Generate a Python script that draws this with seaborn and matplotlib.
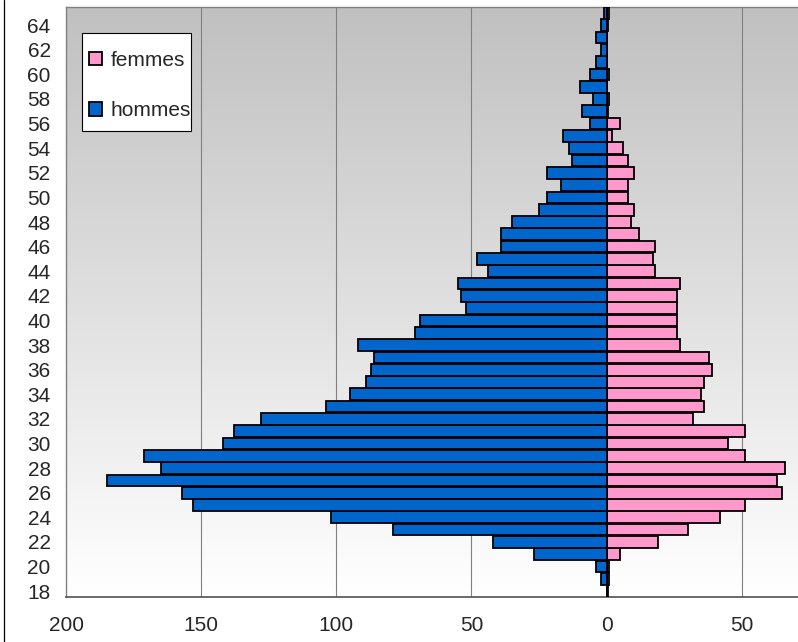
import numpy as np
import pandas as pd
import matplotlib
matplotlib.use("Agg")
import matplotlib.pyplot as plt
import matplotlib.colors as mcolors
from matplotlib.lines import Line2D
from matplotlib.patches import Rectangle
from matplotlib.ticker import FuncFormatter
import seaborn as sns

# Ages 18 a 65
ages = list(range(18, 66))
hommes = [0, 2, 4, 27, 42, 79, 102, 153, 157, 185,
          165, 171, 142, 138, 128, 104, 95, 89, 87, 86,
          92, 71, 69, 52, 54, 55, 44, 48, 39, 39,
          35, 25, 22, 17, 22, 13, 14, 16, 6, 9,
          5, 10, 6, 4, 2, 4, 2, 1]
femmes = [0.5, 1, 1, 5, 19, 30, 42, 51, 65, 63,
          66, 51, 45, 51, 32, 36, 35, 36, 39, 38,
          27, 26, 26, 26, 26, 27, 18, 17, 18, 12,
          9, 10, 8, 8, 10, 8, 6, 2, 5, 0.5,
          1, 0, 1, 0, 0, 0, 0.5, 1]
xticks = [-200, -150, -100, -50, 0, 50]
yticks = list(range(18, 65, 2))

couleurs = {"femmes": "#ff99cc", "hommes": "#0066cc"}

# Tableau long : les hommes a gauche (valeurs negatives)
df = pd.DataFrame({
    "age": ages + ages,
    "effectif": [-h for h in hommes] + femmes,
    "sexe": ["hommes"] * len(ages) + ["femmes"] * len(ages),
})

sns.set_style("white")
plt.rcParams["font.family"] = ["Liberation Sans", "DejaVu Sans"]

fig = plt.figure(figsize=(7.98, 6.42), dpi=100)
ax = fig.add_axes([66 / 798, 1 - 597.3 / 642, 731.5 / 798, 590.6 / 642])

# fond degrade gris -> blanc
cmap_fond = mcolors.LinearSegmentedColormap.from_list("fond", ["#c0c0c0", "#ffffff"])
ax.imshow(np.linspace(0, 1, 256).reshape(-1, 1), extent=[0, 1, 0, 1],
          transform=ax.transAxes, cmap=cmap_fond, aspect="auto", zorder=0)

sns.barplot(data=df, x="effectif", y="age", hue="sexe",
            hue_order=["femmes", "hommes"], palette=couleurs, saturation=1,
            orient="h", native_scale=True, dodge=False, width=0.95,
            edgecolor="black", linewidth=1.3, errorbar=None, ax=ax, zorder=3)

for xv in xticks[1:]:
    if xv != 0:
        ax.axvline(xv, color="#808080", lw=0.8, zorder=1)

ax.set_xlim(-200, 70.6)
ax.set_ylim(17.5, 65.5)
ax.set_xticks(xticks)
ax.xaxis.set_major_formatter(FuncFormatter(lambda v, p: f"{abs(int(v))}"))
ax.set_yticks(yticks)
ax.set_yticklabels([str(a) for a in yticks])
ax.tick_params(axis="y", length=0, pad=11, labelsize=15)
ax.tick_params(axis="x", length=4.3, width=0.8, color="#505050", pad=9, labelsize=15)
ax.set_xlabel("")
ax.set_ylabel("")

for s in ["top", "left"]:
    ax.spines[s].set_color("#808080")
    ax.spines[s].set_linewidth(1.0)
ax.spines["bottom"].set_color("#505050")
ax.spines["bottom"].set_linewidth(1.2)
ax.spines["right"].set_visible(False)

# cadre de la legende dessine a part (marges comme l'original)
ax.add_patch(Rectangle((16 / 731.5, (597.3 - 131) / 590.6), 109 / 731.5, 98 / 590.6,
                       transform=ax.transAxes, facecolor="white", edgecolor="black",
                       lw=0.8, zorder=4))
handles, labels = ax.get_legend_handles_labels()
leg = ax.legend(handles, labels, loc="upper left",
                bbox_to_anchor=((89 - 66) / 731.5, (597.3 - 51) / 590.6),
                borderaxespad=0, borderpad=0, fontsize=15, frameon=False,
                labelspacing=1.5, handlelength=0.6, handleheight=0.6,
                handletextpad=0.45)
leg.set_zorder(5)

fig.add_artist(Line2D([3.5 / 798, 3.5 / 798], [0, 1], color="black", lw=0.9))

fig.savefig("out.png", dpi=100)
